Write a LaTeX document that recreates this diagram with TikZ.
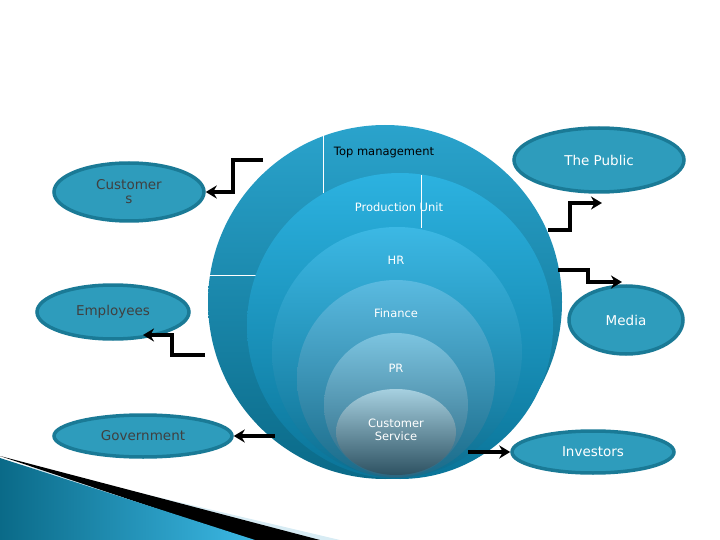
\documentclass[tikz,border=0pt]{standalone}
\usepackage{fontspec}
\setmainfont{DejaVu Sans}
\usetikzlibrary{arrows.meta,shapes.geometric}
\definecolor{ofill}{HTML}{2E9CBC}
\definecolor{oline}{HTML}{1A7A96}
\definecolor{c1t}{HTML}{2AA3CC}\definecolor{c1b}{HTML}{0A6A88}
\definecolor{c2t}{HTML}{2CB2E0}\definecolor{c2b}{HTML}{0A7498}
\definecolor{c3t}{HTML}{3CB8E4}\definecolor{c3b}{HTML}{0C6E90}
\definecolor{c4t}{HTML}{5ABAE0}\definecolor{c4b}{HTML}{1A6A88}
\definecolor{c5t}{HTML}{7CC4E0}\definecolor{c5b}{HTML}{2A6680}
\definecolor{c6t}{HTML}{A6D0E0}\definecolor{c6b}{HTML}{2E5262}
\definecolor{deco}{HTML}{1A90B8}\definecolor{decol}{HTML}{D8ECF4}
\begin{document}
\begin{tikzpicture}[x=1pt,y=-1pt,
 stake/.style={ellipse,draw=oline,line width=3.5pt,fill=ofill,text=white,font=\fontsize{13.5}{14}\selectfont,inner sep=0pt},
 arr/.style={line width=3.5pt,-{Stealth[length=11pt,width=13pt]}},
 lbl/.style={text=white,font=\fontsize{11.5}{13}\selectfont,align=center,inner sep=0pt},
 sep/.style={white,line width=0.6pt}]
\useasboundingbox (0,0) rectangle (720,540);
% bottom-left decoration
\fill[decol] (0,460) -- (340,540) -- (0,540) -- cycle;
\fill[black] (0,456) -- (320,540) -- (250,540) -- cycle;
\shade[left color=c1b,right color=c3t] (0,458) -- (255,540) -- (0,540) -- cycle;
% circles
\shade[top color=c1t,bottom color=c1b] (385,302) circle (177);
\draw[sep] (323,127) -- (323,193);
\draw[sep] (205,275) -- (257,275);
\shade[top color=c2t,bottom color=c2b] (400,326) circle (153);
\draw[sep] (421,175) -- (421,228);
\shade[top color=c3t,bottom color=c3b] (397,352) circle (125);
\shade[top color=c4t,bottom color=c4b] (396,379) circle (99);
\shade[top color=c5t,bottom color=c5b] (396,405) circle (72);
\shade[top color=c6t,bottom color=c6b] (396,432) ellipse (60 and 43);
\node[lbl,text=black] (tm) at (384,153) {Top management};
\node[lbl] (pu) at (399,207) {Production Unit};
\node[lbl] (hr) at (396,260) {HR};
\node[lbl] (fi) at (396,313) {Finance};
\node[lbl] (pr) at (396,368) {PR};
\node[lbl] (cs) at (396,430) {Customer\\Service};
% stakeholders
\node[stake,text=black!75,minimum width=150pt,minimum height=58pt,align=center] (cu) at (129,192) {Customer\\s};
\node[stake,text=black!75,minimum width=152pt,minimum height=54pt] (em) at (113,312) {Employees};
\node[stake,text=black!75,minimum width=178pt,minimum height=42pt] (go) at (143,436) {Government};
\node[stake,minimum width=170pt,minimum height=64pt] (pb) at (599,160) {The Public};
\node[stake,minimum width=114pt,minimum height=68pt] (me) at (626,320) {Media};
\node[stake,minimum width=162pt,minimum height=42pt] (in) at (593,452) {Investors};
% connectors
\coordinate (c1) at (263,160); \coordinate (c2) at (205,355);
\coordinate (c3) at (275,436); \coordinate (c4) at (548,230);
\coordinate (c5) at (558,270); \coordinate (c6) at (468,452);
\draw[arr] (c1) -- (233,160) -- (233,192) -- (cu.east);
\draw[arr] (c2) -- (172,355) -- (172,335) -- (143,335);
\draw[arr] (c3) -- (go.east);
\draw[arr] (c4) -- (570,230) -- (570,203) -- (602,203);
\draw[arr] (c5) -- (588,270) -- (588,282) -- (622,282);
\draw[arr] (c6) -- (in.west);
\end{tikzpicture}
\end{document}
